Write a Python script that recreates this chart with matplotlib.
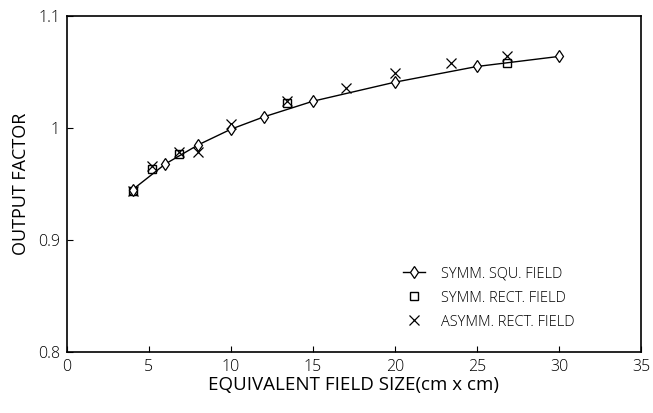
import numpy as np
import matplotlib.pyplot as plt

plt.rcParams['font.family'] = ['Open Sans', 'DejaVu Sans']
plt.rcParams['font.weight'] = 'light'

# symmetric square fields (line + diamonds)
sq_x = [4, 6, 8, 10, 12, 15, 20, 25, 30]
sq_y = [0.945, 0.968, 0.985, 0.999, 1.010, 1.024, 1.041, 1.055, 1.064]

# symmetric rectangular fields
rect_x = [4, 5.2, 6.8, 13.4, 26.8]
rect_y = [0.944, 0.963, 0.977, 1.022, 1.058]

# asymmetric rectangular fields
asym_x = [4, 5.2, 6.8, 8, 10, 13.4, 17, 20, 23.4, 26.8]
asym_y = [0.944, 0.966, 0.979, 0.979, 1.004, 1.024, 1.036, 1.049, 1.058, 1.064]

xticks = [0, 5, 10, 15, 20, 25, 30, 35]
yticks = [0.8, 0.9, 1.0, 1.1]
ytick_labels = ["0.8", "0.9", "1", "1.1"]

fig = plt.figure(figsize=(6.53, 4.13), dpi=100)
ax = fig.add_axes([0.1026, 0.1477, 0.879, 0.8133])

ax.plot(sq_x, sq_y, color="black", lw=1.0, marker="d", markersize=6,
        markerfacecolor="white", markeredgecolor="black", markeredgewidth=0.9,
        label="SYMM. SQU. FIELD", zorder=3)
ax.plot(rect_x, rect_y, ls="none", marker="s", markersize=6,
        markerfacecolor="none", markeredgecolor="black", markeredgewidth=1.0,
        label="SYMM. RECT. FIELD", zorder=2)
ax.plot(asym_x, asym_y, ls="none", marker="x", markersize=7,
        color="black", markeredgewidth=0.9,
        label="ASYMM. RECT. FIELD", zorder=2)

ax.set_xlim(0, 35)
ax.set_ylim(0.8, 1.1)
ax.set_xticks(xticks)
ax.set_yticks(yticks)
ax.set_yticklabels(ytick_labels)
ax.tick_params(direction="in", length=4, width=0.8, labelsize=11.5, pad=5)

for s in ax.spines.values():
    s.set_linewidth(1.2)

ax.set_xlabel("EQUIVALENT FIELD SIZE(cm x cm)", fontsize=13.5, labelpad=1)
ax.set_ylabel("OUTPUT FACTOR", fontsize=13, labelpad=6)

ax.legend(loc="upper left", bbox_to_anchor=(0.575, 0.272), frameon=False,
          fontsize=10.5, handlelength=1.5, labelspacing=0.62, handletextpad=1.1,
          borderaxespad=0)

fig.savefig("out.png", dpi=100)
